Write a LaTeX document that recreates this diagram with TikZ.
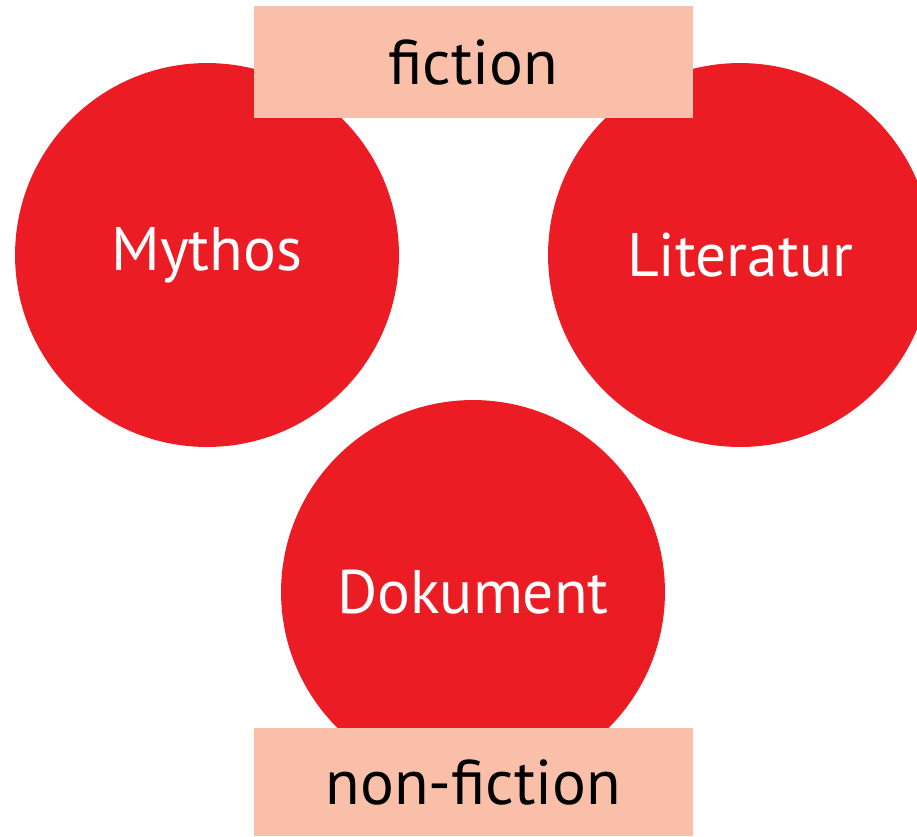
\documentclass[tikz,border=0pt]{standalone}
\usepackage{fontspec}
\setmainfont{PT Sans}
\definecolor{cred}{HTML}{EC1C24}
\definecolor{cbox}{HTML}{F9BFA8}
\begin{document}
\begin{tikzpicture}[x=0.02cm,y=-0.02cm,
  circ/.style={circle,fill=cred,minimum size=7.68cm,inner sep=0pt,text=white,font=\fontsize{35}{42}\selectfont},
  lbl/.style={fill=cbox,minimum width=8.78cm,inner sep=0pt,text=black,font=\fontsize{36}{42}\selectfont}]
\useasboundingbox (0,0) rectangle (917,836);
\begin{scope}
\clip (0,0) rectangle (917,836);
\node[circ] (myth) at (207,255) {Mythos};
\node[circ] (lit) at (740,255) {Literatur};
\node[circ] (dok) at (473,592) {Dokument};
\node[lbl,minimum height=2.24cm] (fic) at (473.5,62) {fiction};
\node[lbl,minimum height=2.16cm] (nonfic) at (473.5,782) {non-fiction};
\end{scope}
\end{tikzpicture}
\end{document}
